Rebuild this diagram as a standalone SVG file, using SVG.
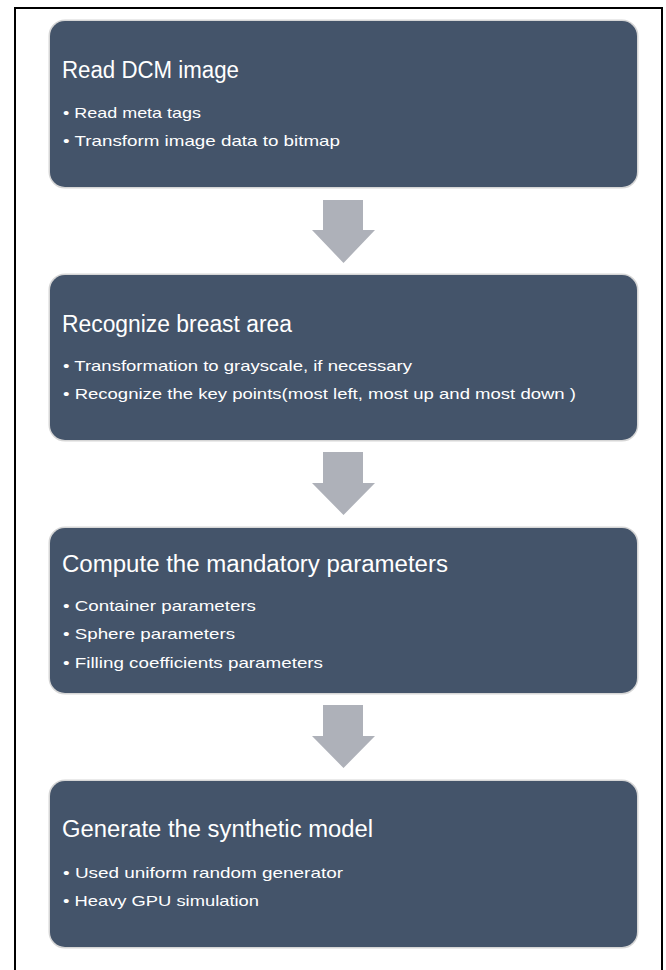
<svg xmlns="http://www.w3.org/2000/svg" width="666" height="970" viewBox="0 0 666 970">
<defs>
<style>
.box{fill:#44546A;}
.glow{fill:none;stroke:#d6d6d6;stroke-width:3;}
.title{font-family:"Liberation Sans",Arial,sans-serif;font-size:23px;fill:#ffffff;}
.item{font-family:"Liberation Sans",Arial,sans-serif;font-size:15px;fill:#ffffff;}
.arrow{fill:#AEB1B9;}
</style>
</defs>
<rect x="0" y="0" width="666" height="970" fill="#ffffff"/>
<rect x="15" y="8" width="647" height="1000" fill="none" stroke="#000000" stroke-width="2"/>
<g id="connectors">
<polygon class="arrow" points="323,200 363,200 363,230 375,230 343.5,263 312,230 323,230"/>
<polygon class="arrow" points="323,452 363,452 363,483 375,483 343.5,515 312,483 323,483"/>
<polygon class="arrow" points="323,705 363,705 363,736 375,736 343.5,768 312,736 323,736"/>
</g>
<g id="node1">
<rect class="glow" x="50" y="21" width="587" height="166" rx="15"/>
<rect class="box" x="50" y="21" width="587" height="166" rx="15"/>
<text class="title" x="62" y="78" textLength="177" lengthAdjust="spacingAndGlyphs">Read DCM image</text>
<text class="item" x="63" y="118" textLength="138" lengthAdjust="spacingAndGlyphs">• Read meta tags</text>
<text class="item" x="63" y="146" textLength="277" lengthAdjust="spacingAndGlyphs">• Transform image data to bitmap</text>
</g>
<g id="node2">
<rect class="glow" x="50" y="275" width="587" height="165" rx="15"/>
<rect class="box" x="50" y="275" width="587" height="165" rx="15"/>
<text class="title" x="62" y="332" textLength="230" lengthAdjust="spacingAndGlyphs">Recognize breast area</text>
<text class="item" x="63" y="371" textLength="349" lengthAdjust="spacingAndGlyphs">• Transformation to grayscale, if necessary</text>
<text class="item" x="63" y="399" textLength="513" lengthAdjust="spacingAndGlyphs">• Recognize the key points(most left, most up and most down )</text>
</g>
<g id="node3">
<rect class="glow" x="50" y="528" width="587" height="165" rx="15"/>
<rect class="box" x="50" y="528" width="587" height="165" rx="15"/>
<text class="title" x="62" y="572" textLength="386" lengthAdjust="spacingAndGlyphs">Compute the mandatory parameters</text>
<text class="item" x="63" y="611" textLength="193" lengthAdjust="spacingAndGlyphs">• Container parameters</text>
<text class="item" x="63" y="639" textLength="172" lengthAdjust="spacingAndGlyphs">• Sphere parameters</text>
<text class="item" x="63" y="668" textLength="260" lengthAdjust="spacingAndGlyphs">• Filling coefficients parameters</text>
</g>
<g id="node4">
<rect class="glow" x="50" y="781" width="587" height="166" rx="15"/>
<rect class="box" x="50" y="781" width="587" height="166" rx="15"/>
<text class="title" x="62" y="837" textLength="311" lengthAdjust="spacingAndGlyphs">Generate the synthetic model</text>
<text class="item" x="63" y="878" textLength="280" lengthAdjust="spacingAndGlyphs">• Used uniform random generator</text>
<text class="item" x="63" y="906" textLength="196" lengthAdjust="spacingAndGlyphs">• Heavy GPU simulation</text>
</g>
</svg>
